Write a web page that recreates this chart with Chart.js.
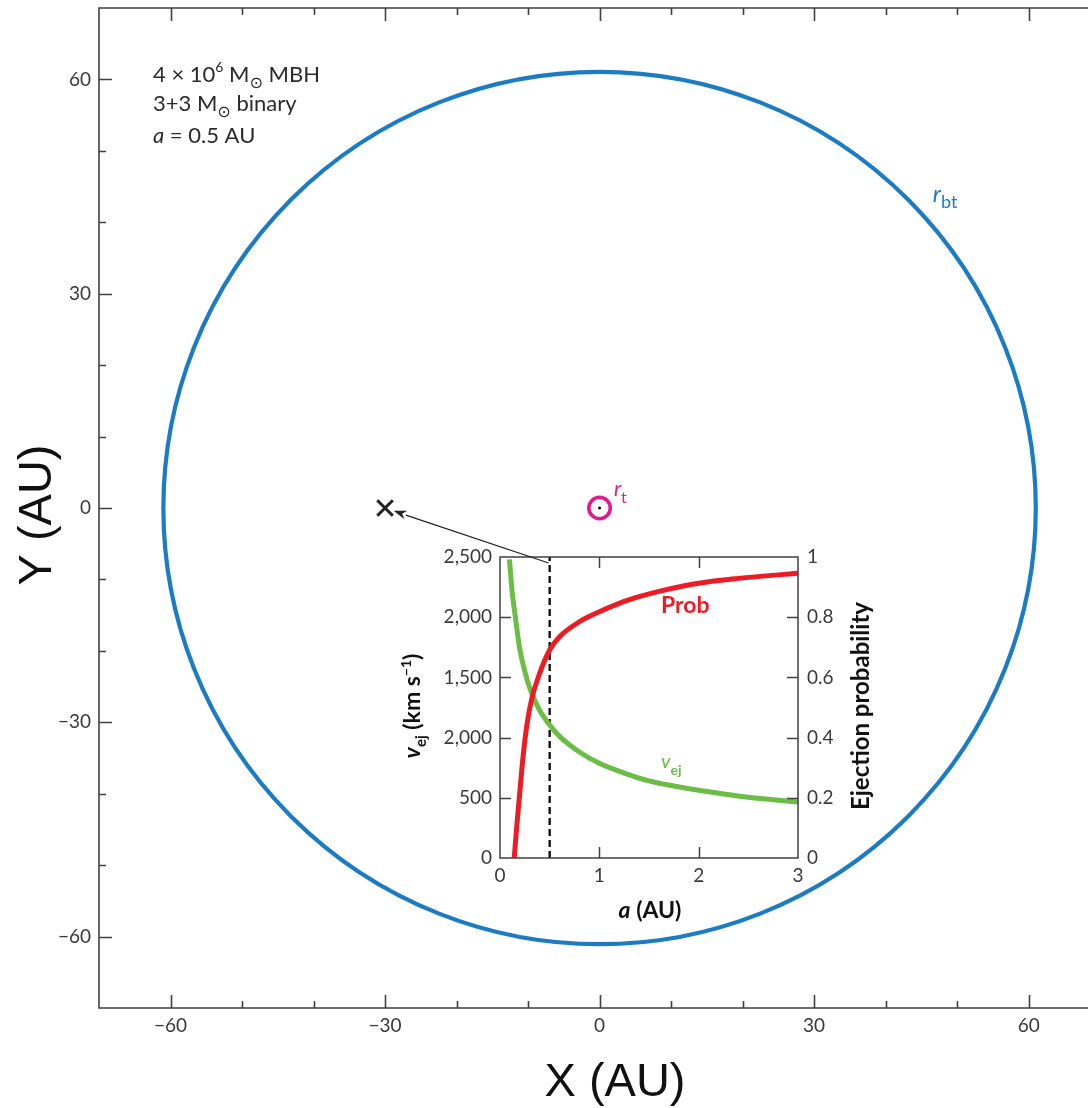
<!DOCTYPE html>
<html><head><meta charset="utf-8">
<script src="https://cdn.jsdelivr.net/npm/chart.js@4.4.0/dist/chart.umd.min.js"></script>
<style>
html,body{margin:0;padding:0;background:#fff;overflow:hidden;}
#wrap{position:relative;width:1088px;height:1108px;}
canvas{position:absolute;left:0;top:0;}
</style></head><body>
<div id="wrap">
<canvas id="main" width="1088" height="1108"></canvas>
<canvas id="inset" width="1088" height="1108"></canvas>
</div>
<script>
// ---------------- Main panel data ----------------
const mainXTickValues = [-60, -30, 0, 30, 60];
const mainXTickLabels = ['\u221260', '\u221230', '0', '30', '60'];
const mainYTickValues = [-60, -30, 0, 30, 60];
const mainYTickLabels = ['\u221260', '\u221230', '0', '30', '60'];
const rbtRadiusAU = [61];          // binary break-up radius r_bt
const rtRadiusAU = [1.5];          // tidal radius r_t
const mbhPosition = [{x: 0, y: 0}];
const ejectedPosition = [{x: -30, y: 0}];

// ---------------- Inset data ----------------
const vejA   = [0.095, 0.12, 0.15, 0.2, 0.25, 0.3, 0.35, 0.4, 0.5, 0.6, 0.8, 1.0, 1.25, 1.5, 1.75, 2.0, 2.25, 2.5, 2.75, 3.0];
const vejKms = [2480, 2230, 2030, 1730, 1550, 1410, 1310, 1225, 1105, 1010, 880, 786, 705, 640, 598, 562, 532, 505, 484, 465];
const probA      = [0.143, 0.17, 0.2, 0.233, 0.27, 0.317, 0.4, 0.5, 0.6, 0.8, 1.0, 1.2, 1.4, 1.6, 2.0, 2.4, 3.0];
const probValues = [0.0, 0.11, 0.22, 0.34, 0.44, 0.525, 0.614, 0.691, 0.735, 0.785, 0.818, 0.846, 0.868, 0.886, 0.913, 0.929, 0.946];
const chosenA = [0.5];
const insetATickLabels = ['0', '1', '2', '3'];
const insetVTickLabels = ['0', '500', '2,000', '1,500', '2,000', '2,500'];
const insetPTickLabels = ['0', '0.2', '0.4', '0.6', '0.8', '1'];

const BLUE = '#1b7bc3', MAGENTA = '#e2198e', RED = '#ed1c24', GREEN = '#6bbd46', AXIS = '#404040', TXT = '#2b2b2b';
const FF = 'Lato, "DejaVu Sans", sans-serif';

function near(v, step) { return Math.abs(v / step - Math.round(v / step)) < 1e-6; }
function auToPx(chart, r) {
  const s = chart.scales.x;
  return Math.abs(s.getPixelForValue(r) - s.getPixelForValue(0));
}
function richWidth(ctx, parts) {
  let w = 0;
  for (const p of parts) { ctx.font = p.font; w += ctx.measureText(p.t).width + (p.kern || 0); }
  return w;
}
function drawRich(ctx, x, y, parts, color) {
  let cx = x;
  ctx.textAlign = 'left';
  ctx.textBaseline = 'alphabetic';
  for (const p of parts) {
    ctx.font = p.font;
    ctx.fillStyle = p.color || color || TXT;
    ctx.fillText(p.t, cx, y + (p.dy || 0));
    cx += ctx.measureText(p.t).width + (p.kern || 0);
  }
}

// ---------------- Main chart ----------------
const mainPlugin = {
  id: 'mainDecor',
  afterDatasetsDraw(chart) {
    const ctx = chart.ctx, a = chart.chartArea, sx = chart.scales.x, sy = chart.scales.y;
    ctx.save();
    ctx.strokeStyle = AXIS; ctx.lineWidth = 1.6;
    ctx.beginPath();
    ctx.moveTo(a.right + 2, a.top); ctx.lineTo(a.left, a.top); ctx.lineTo(a.left, a.bottom); ctx.lineTo(a.right + 2, a.bottom);
    ctx.stroke();
    ctx.beginPath();
    for (const t of sx.ticks) {
      if (!near(t.value, 10) || t.value <= sx.min || t.value >= sx.max) continue;
      const len = near(t.value, 30) ? 13 : 7;
      const px = Math.round(sx.getPixelForValue(t.value)) + 0.5;
      ctx.moveTo(px, a.bottom); ctx.lineTo(px, a.bottom - len);
      ctx.moveTo(px, a.top); ctx.lineTo(px, a.top + len);
    }
    for (const t of sy.ticks) {
      if (!near(t.value, 10) || t.value <= sy.min || t.value >= sy.max) continue;
      const len = near(t.value, 30) ? 13 : 7;
      const py = Math.round(sy.getPixelForValue(t.value)) + 0.5;
      ctx.moveTo(a.left, py); ctx.lineTo(a.left + len, py);
    }
    ctx.stroke();

    // tick labels
    ctx.fillStyle = '#3a3a3a';
    ctx.font = '19px ' + FF;
    ctx.textAlign = 'center'; ctx.textBaseline = 'middle';
    mainXTickValues.forEach((v, i) => ctx.fillText(mainXTickLabels[i], sx.getPixelForValue(v), a.bottom + 18));
    ctx.textAlign = 'right';
    mainYTickValues.forEach((v, i) => ctx.fillText(mainYTickLabels[i], a.left - 8, sy.getPixelForValue(v)));

    // axis titles
    ctx.fillStyle = '#111';
    ctx.font = '47px "Liberation Sans", Arial, sans-serif';
    ctx.textAlign = 'center'; ctx.textBaseline = 'middle';
    ctx.fillText('X (AU)', 615, 1083);
    ctx.save();
    ctx.translate(38, 515); ctx.rotate(-Math.PI / 2);
    ctx.fillText('Y (AU)', 0, 0);
    ctx.restore();

    // annotation block
    const f = '22px ' + FF, fs = '14px ' + FF, fsun = '16px "DejaVu Sans", sans-serif';
    drawRich(ctx, 153, 82, [
      {t: '4 \u00d7 10', font: f}, {t: '6', font: fs, dy: -10}, {t: ' M', font: f},
      {t: '\u2299', font: fsun, dy: 6}, {t: ' MBH', font: f}]);
    drawRich(ctx, 153, 111, [
      {t: '3+3 M', font: f}, {t: '\u2299', font: fsun, dy: 6}, {t: ' binary', font: f}]);
    drawRich(ctx, 153, 143, [
      {t: 'a', font: 'italic 22px ' + FF}, {t: ' = 0.5 AU', font: f}]);

    // r_bt label
    const bx = sx.getPixelForValue(46.6), by = sy.getPixelForValue(42.8);
    drawRich(ctx, bx, by, [{t: 'r', font: 'italic 24px ' + FF}, {t: 'bt', font: '18px ' + FF, dy: 6}], BLUE);
    // r_t label
    const tx = sx.getPixelForValue(2.0), ty = sy.getPixelForValue(1.7);
    drawRich(ctx, tx, ty, [{t: 'r', font: 'italic 21px ' + FF}, {t: 't', font: '16px ' + FF, dy: 7, kern: 0}], MAGENTA);
    ctx.restore();
  }
};

const mainChart = new Chart(document.getElementById('main'), {
  type: 'scatter',
  data: {
    datasets: [
      { label: 'r_bt', data: mbhPosition, pointStyle: 'circle',
        pointBackgroundColor: 'rgba(0,0,0,0)', pointBorderColor: BLUE, pointBorderWidth: 4.2,
        pointRadius: c => auToPx(c.chart, rbtRadiusAU[0]), clip: false },
      { label: 'r_t', data: mbhPosition, pointStyle: 'circle',
        pointBackgroundColor: 'rgba(0,0,0,0)', pointBorderColor: MAGENTA, pointBorderWidth: 3.6,
        pointRadius: c => auToPx(c.chart, rtRadiusAU[0]) },
      { label: 'MBH', data: mbhPosition, pointStyle: 'circle',
        pointBackgroundColor: '#000', pointBorderColor: '#000', pointBorderWidth: 0, pointRadius: 1.5 },
      { label: 'ejected', data: ejectedPosition, pointStyle: 'crossRot',
        pointBorderColor: '#222', pointBorderWidth: 3, pointRadius: 11 }
    ]
  },
  options: {
    responsive: false, animation: false, devicePixelRatio: 1, events: [],
    layout: { autoPadding: false, padding: { top: 8, right: 0, left: 0, bottom: 0 } },
    plugins: { legend: { display: false }, tooltip: { enabled: false } },
    scales: {
      x: {
        type: 'linear', position: 'bottom', min: -70, max: 68.3,
        grid: { display: false, drawTicks: false }, border: { display: false },
        ticks: { display: false, stepSize: 10, includeBounds: false, autoSkip: false },
        afterFit: s => { s.height = 100; }
      },
      y: {
        type: 'linear', position: 'left', min: -70, max: 70,
        grid: { display: false, drawTicks: false }, border: { display: false },
        ticks: { display: false, stepSize: 10, includeBounds: false, autoSkip: false },
        afterFit: s => { s.width = 99; }
      }
    }
  },
  plugins: [mainPlugin]
});
window.mainChart = mainChart;

// ---------------- Inset chart ----------------
const insetPlugin = {
  id: 'insetDecor',
  afterDatasetsDraw(chart) {
    const ctx = chart.ctx, a = chart.chartArea;
    const sx = chart.scales.x, sv = chart.scales.yv, sp = chart.scales.yp;
    ctx.save();
    ctx.strokeStyle = AXIS; ctx.lineWidth = 1.5;
    ctx.strokeRect(a.left, a.top, a.right - a.left, a.bottom - a.top);
    ctx.beginPath();
    for (const t of sx.ticks) {
      if (t.value <= sx.min + 1e-6 || t.value >= sx.max - 1e-6) continue;
      const len = near(t.value, 1) ? 11 : 7;
      const px = Math.round(sx.getPixelForValue(t.value)) + 0.5;
      ctx.moveTo(px, a.bottom); ctx.lineTo(px, a.bottom - len);
      ctx.moveTo(px, a.top); ctx.lineTo(px, a.top + len);
    }
    for (const t of sv.ticks) {
      if (t.value <= sv.min || t.value >= sv.max) continue;
      const len = near(t.value, 500) ? 11 : 7;
      const py = Math.round(sv.getPixelForValue(t.value)) + 0.5;
      ctx.moveTo(a.left, py); ctx.lineTo(a.left + len, py);
    }
    for (const t of sp.ticks) {
      if (t.value <= sp.min + 1e-6 || t.value >= sp.max - 1e-6) continue;
      const len = near(t.value, 0.2) ? 11 : 7;
      const py = Math.round(sp.getPixelForValue(t.value)) + 0.5;
      ctx.moveTo(a.right, py); ctx.lineTo(a.right - len, py);
    }
    ctx.stroke();

    // titles
    const bf = 'bold 23px ' + FF;
    const xt = [{t: 'a', font: 'bold italic 23px ' + FF}, {t: ' (AU)', font: bf}];
    drawRich(ctx, 650 - richWidth(ctx, xt) / 2, 918, xt, '#111');

    const yt = [{t: 'v', font: 'bold italic 23px ' + FF}, {t: 'ej', font: 'bold 15px ' + FF, dy: 6},
                {t: ' (km s', font: bf}, {t: '\u22121', font: 'bold 14px ' + FF, dy: -9}, {t: ')', font: bf}];
    ctx.save();
    ctx.translate(420, 706); ctx.rotate(-Math.PI / 2);
    drawRich(ctx, -richWidth(ctx, yt) / 2, 0, yt, '#111');
    ctx.restore();

    ctx.save();
    ctx.translate(869, 706); ctx.rotate(-Math.PI / 2);
    ctx.font = 'bold 24px ' + FF; ctx.fillStyle = '#111'; ctx.textAlign = 'center'; ctx.textBaseline = 'alphabetic';
    ctx.fillText('Ejection probability', 0, 0);
    ctx.restore();

    // curve labels
    drawRich(ctx, sx.getPixelForValue(1.62), sp.getPixelForValue(0.815), [{t: 'Prob', font: 'bold 23px ' + FF}], RED);
    drawRich(ctx, sx.getPixelForValue(1.62), sv.getPixelForValue(745), [
      {t: 'v', font: 'italic 20px ' + FF}, {t: 'ej', font: 'bold 14px ' + FF, dy: 7}], GREEN);

    // arrow from inset to the ejected star
    const m = window.mainChart;
    if (m) {
      const x0 = sx.getPixelForValue(chosenA[0]) - 1, y0 = a.top + 6;
      const cx = m.scales.x.getPixelForValue(ejectedPosition[0].x), cy = m.scales.y.getPixelForValue(ejectedPosition[0].y);
      const dx = x0 - cx, dy = y0 - cy, L = Math.hypot(dx, dy), ux = dx / L, uy = dy / L;
      const tipX = cx + ux * 9, tipY = cy + uy * 9;
      const baseX = tipX + ux * 13, baseY = tipY + uy * 13;
      ctx.strokeStyle = '#222'; ctx.lineWidth = 1.3;
      ctx.beginPath(); ctx.moveTo(x0, y0); ctx.lineTo(baseX, baseY); ctx.stroke();
      ctx.fillStyle = '#222';
      ctx.beginPath();
      ctx.moveTo(tipX, tipY);
      ctx.lineTo(baseX - uy * 4.5, baseY + ux * 4.5);
      ctx.lineTo(tipX + ux * 9, tipY + uy * 9);
      ctx.lineTo(baseX + uy * 4.5, baseY - ux * 4.5);
      ctx.closePath(); ctx.fill();
    }
    ctx.restore();
  }
};

const tickFont = { family: FF, size: 19 };
const insetChart = new Chart(document.getElementById('inset'), {
  type: 'scatter',
  data: {
    datasets: [
      { label: 'Prob', data: probA.map((x, i) => ({x, y: probValues[i]})), yAxisID: 'yp',
        showLine: true, borderColor: RED, borderWidth: 5, pointRadius: 0, cubicInterpolationMode: 'monotone' },
      { label: 'vej', data: vejA.map((x, i) => ({x, y: vejKms[i]})), yAxisID: 'yv',
        showLine: true, borderColor: GREEN, borderWidth: 5, pointRadius: 0, cubicInterpolationMode: 'monotone' },
      { label: 'chosen a', data: [{x: chosenA[0], y: 0}, {x: chosenA[0], y: 2500}], yAxisID: 'yv',
        showLine: true, borderColor: '#111', borderWidth: 2.4, borderDash: [7, 4], pointRadius: 0 }
    ]
  },
  options: {
    responsive: false, animation: false, devicePixelRatio: 1, events: [],
    layout: { autoPadding: false, padding: { left: 380, right: 208, top: 557, bottom: 168 } },
    plugins: { legend: { display: false }, tooltip: { enabled: false } },
    scales: {
      x: {
        type: 'linear', position: 'bottom', min: 0, max: 3,
        grid: { display: false, drawTicks: false }, border: { display: false },
        ticks: { stepSize: 0.2, autoSkip: false, maxRotation: 0, padding: 6, color: '#3a3a3a', font: tickFont,
          callback: v => near(v, 1) ? insetATickLabels[Math.round(v)] : null },
        afterFit: s => { s.height = 82; }
      },
      yv: {
        type: 'linear', position: 'left', min: 0, max: 2500,
        grid: { display: false, drawTicks: false }, border: { display: false },
        ticks: { stepSize: 100, autoSkip: false, padding: 8, color: '#3a3a3a', font: tickFont,
          callback: v => near(v, 500) ? insetVTickLabels[Math.round(v / 500)] : null },
        afterFit: s => { s.width = 120; }
      },
      yp: {
        type: 'linear', position: 'right', min: 0, max: 1,
        grid: { display: false, drawTicks: false }, border: { display: false },
        ticks: { stepSize: 0.05, autoSkip: false, padding: 9, color: '#3a3a3a', font: tickFont,
          callback: v => near(v, 0.2) ? insetPTickLabels[Math.round(v * 5)] : null },
        afterFit: s => { s.width = 82; }
      }
    }
  },
  plugins: [insetPlugin]
});
</script>
</body></html>
